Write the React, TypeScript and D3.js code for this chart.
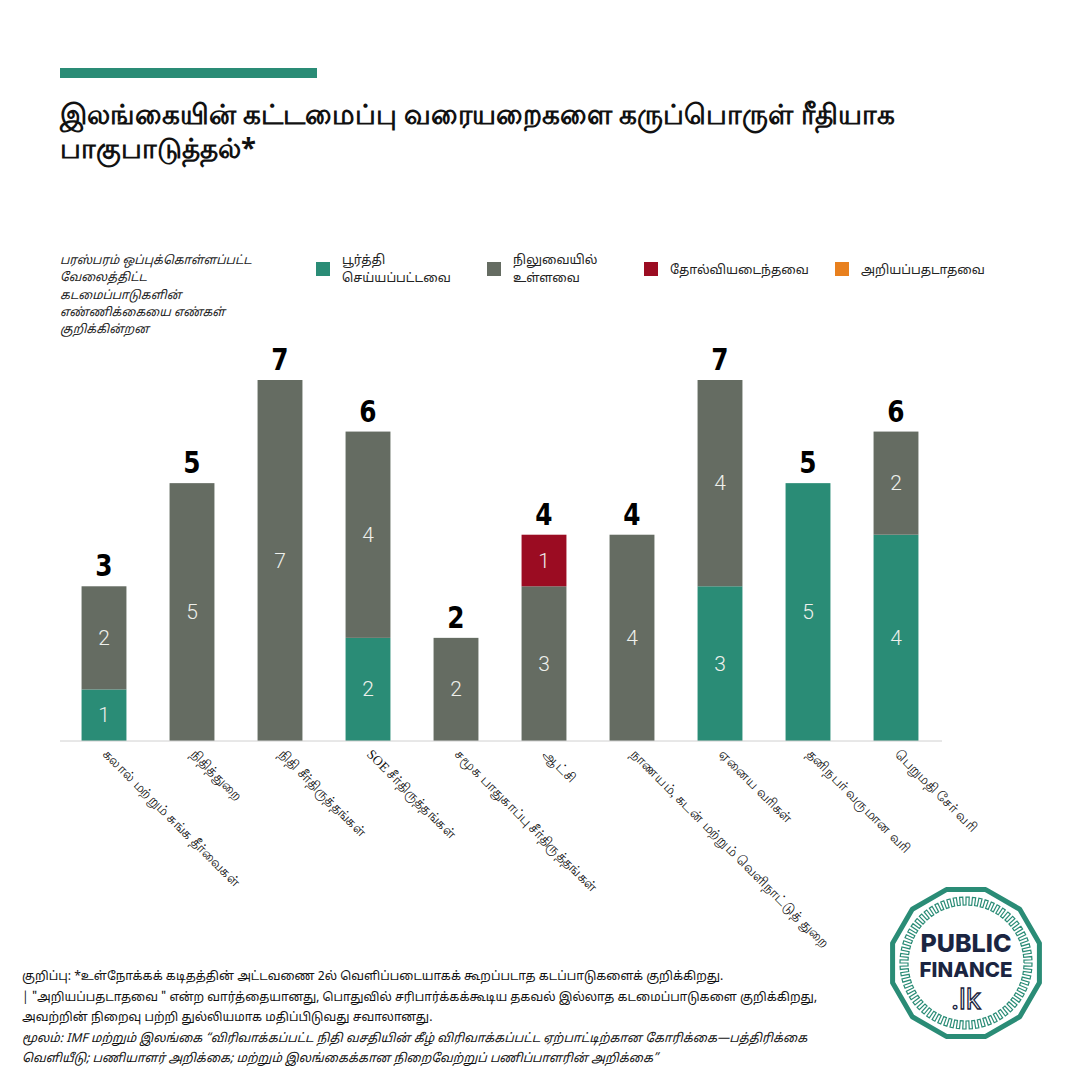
import React from 'react';
import * as d3 from 'd3';

// categories (x axis)
const categories = [
  'கலால் மற்றும் சுங்க தீர்வைகள்',
  'நிதித்துறை',
  'நிதி சீர்திருத்தங்கள்',
  'SOE சீர்திருத்தங்கள்',
  'சமூக பாதுகாப்பு சீர்திருத்தங்கள்',
  'ஆட்சி',
  'நாணயம், கடன் மற்றும் வெளிநாட்டுத் துறை',
  'ஏனைய வரிகள்',
  'தனிநபர் வருமான வரி',
  'பெறுமதி சேர் வரி',
];

// series values
const completed = [1, 0, 0, 2, 0, 0, 0, 3, 5, 4];
const pending = [2, 5, 7, 4, 2, 3, 4, 4, 0, 2];
const failed = [0, 0, 0, 0, 0, 1, 0, 0, 0, 0];
const unknown = [0, 0, 0, 0, 0, 0, 0, 0, 0, 0];

const seriesKeys = ['completed', 'pending', 'failed', 'unknown'];
const seriesNames = ['பூர்த்தி\nசெய்யப்பட்டவை', 'நிலுவையில்\nஉள்ளவை', 'தோல்வியடைந்தவை', 'அறியப்பதடாதவை'];
const seriesColors = ['#2a8c76', '#656c62', '#9b0c22', '#e8801e'];

const title = ['இலங்கையின் கட்டமைப்பு வரையறைகளை கருப்பொருள் ரீதியாக', 'பாகுபாடுத்தல்*'];
const noteLines = ['பரஸ்பரம் ஒப்புக்கொள்ளப்பட்ட', 'வேலைத்திட்ட', 'கடமைப்பாடுகளின்', 'எண்ணிக்கையை எண்கள்', 'குறிக்கின்றன'];
const footLines = [
  'குறிப்பு: *உள்நோக்கக் கடிதத்தின் அட்டவணை 2ல் வெளிப்படையாகக் கூறப்படாத கடப்பாடுகளைக் குறிக்கிறது.',
  '| "அறியப்பதடாதவை " என்ற வார்த்தையானது, பொதுவில் சரிபார்க்கக்கூடிய தகவல் இல்லாத கடமைப்பாடுகளை  குறிக்கிறது,',
  'அவற்றின் நிறைவு பற்றி துல்லியமாக மதிப்பிடுவது சவாலானது.',
  'மூலம்: IMF மற்றும் இலங்கை “விரிவாக்கப்பட்ட நிதி வசதியின் கீழ் விரிவாக்கப்பட்ட ஏற்பாட்டிற்கான கோரிக்கை—பத்திரிக்கை',
  'வெளியீடு; பணியாளர் அறிக்கை; மற்றும் இலங்கைக்கான நிறைவேற்றுப் பணிப்பாளரின் அறிக்கை”',
];

const W = 1080;
const H = 1080;
const baseY = 741;
const tamilSans = "'Noto Sans Tamil', 'Lohit Tamil', 'Noto Sans', sans-serif";

const rows = categories.map((c, i) => ({
  category: c,
  completed: completed[i],
  pending: pending[i],
  failed: failed[i],
  unknown: unknown[i],
}));

const Logo: React.FC<{ cx: number; cy: number }> = ({ cx, cy }) => {
  const n = 12;
  const r = 76;
  const pts = d3.range(n).map((i) => {
    const a = (i / n) * Math.PI * 2 - Math.PI / 2 + Math.PI / n;
    return [cx + r * Math.cos(a), cy + r * Math.sin(a)];
  });
  // meander ring
  const segs = 64;
  const r1 = 58;
  const r2 = 66;
  let p = '';
  for (let i = 0; i < segs; i++) {
    const a0 = (i / segs) * Math.PI * 2;
    const a1 = ((i + 0.5) / segs) * Math.PI * 2;
    const a2 = ((i + 1) / segs) * Math.PI * 2;
    const pt = (rr: number, a: number) => `${cx + rr * Math.cos(a)},${cy + rr * Math.sin(a)}`;
    p += `${i === 0 ? 'M' : 'L'}${pt(r1, a0)} L${pt(r2, a0)} L${pt(r2, a1)} L${pt(r1, a1)} L${pt(r1, a2)} `;
  }
  return (
    <g>
      <polygon points={pts.map((d) => d.join(',')).join(' ')} fill="#fff" stroke="#2a8c76" strokeWidth={5} strokeLinejoin="round" />
      <path d={p} fill="none" stroke="#2a8c76" strokeWidth={1.2} />
      <text x={cx} y={cy - 11} textAnchor="middle" fontFamily="Inter, Roboto, sans-serif" fontWeight={800} fontSize={25} fill="#1b2541">PUBLIC</text>
      <text x={cx} y={cy + 14} textAnchor="middle" fontFamily="Inter, Roboto, sans-serif" fontWeight={800} fontSize={20.5} fill="#1b2541">FINANCE</text>
      <text x={cx} y={cy + 46} textAnchor="middle" fontFamily="Inter, Roboto, sans-serif" fontWeight={400} fontSize={28} fill="#fff" stroke="#1b2541" strokeWidth={1.3}>.lk</text>
    </g>
  );
};

const App: React.FC = () => {
  const x = d3.scaleBand<string>()
    .domain(categories)
    .range([60, 940])
    .paddingInner(0.49)
    .paddingOuter(0.245);

  const y = d3.scaleLinear().domain([0, 7]).range([baseY, 380]);

  const stack = d3.stack<any>().keys(seriesKeys);
  const layers = stack(rows as any);

  return (
    <svg width={W} height={H} style={{ display: 'block', position: 'absolute', left: 0, top: 0 }}>
      <rect width={W} height={H} fill="#fff" />
      <rect x={60} y={68} width={257} height={10} fill="#2a8c76" />
      {title.map((t, i) => (
        <text key={i} x={60} y={124 + i * 34} fontFamily="'Noto Sans', sans-serif" fontWeight={700} fontSize={27.5} fill="#111">{t}</text>
      ))}

      {/* note */}
      {noteLines.map((t, i) => (
        <text key={i} x={60} y={264 + i * 17.3} fontFamily={tamilSans} fontStyle="italic" fontSize={12} fill="#222">{t}</text>
      ))}

      {/* legend */}
      {seriesNames.map((name, i) => {
        const lx = [316, 487, 644, 835][i];
        const lines = name.split('\n');
        return (
          <g key={i}>
            <rect x={lx} y={262} width={14} height={14} fill={seriesColors[i]} />
            {lines.map((l, j) => (
              <text key={j} x={lx + 26} y={lines.length === 1 ? 274 : 264 + j * 18} fontFamily={tamilSans} fontSize={12.5} fill="#222">{l}</text>
            ))}
          </g>
        );
      })}

      {/* bars */}
      {layers.map((layer, li) => (
        <g key={li} fill={seriesColors[li]}>
          {layer.map((d, i) => {
            const v = d[1] - d[0];
            if (v <= 0) return null;
            const bx = x(categories[i]) || 0;
            return (
              <g key={i}>
                <rect x={bx} y={y(d[1])} width={x.bandwidth()} height={y(d[0]) - y(d[1])} />
                <text x={bx + x.bandwidth() / 2} y={(y(d[0]) + y(d[1])) / 2 + 7} textAnchor="middle" fontFamily="Roboto, sans-serif" fontWeight={300} fontSize={21} fill="#eef0ec">{v}</text>
              </g>
            );
          })}
        </g>
      ))}

      {/* totals */}
      {rows.map((r, i) => {
        const total = r.completed + r.pending + r.failed + r.unknown;
        const tx = (x(r.category) || 0) + x.bandwidth() / 2;
        return (
          <text key={i} transform={`translate(${tx},${y(total) - 10}) scale(0.8,1)`} textAnchor="middle" fontFamily="'DejaVu Sans', sans-serif" fontWeight={700} fontSize={31} fill="#000">{total}</text>
        );
      })}

      {/* axis */}
      <line x1={60} x2={942} y1={baseY} y2={baseY} stroke="#d0d0d0" strokeWidth={1} />
      {categories.map((c, i) => {
        const cx = (x(c) || 0) + x.bandwidth() / 2;
        return (
          <text key={i} transform={`translate(${cx - 2},${baseY + 14}) rotate(45)`} fontFamily="serif" fontSize={13.5} fill="#111">{c}</text>
        );
      })}

      {/* footnotes */}
      {footLines.map((t, i) => (
        <text key={i} x={22} y={980 + i * 20.5} fontFamily={tamilSans} fontStyle={i >= 3 ? 'italic' : 'normal'} fontSize={12.2} fill="#111">{t}</text>
      ))}

      <Logo cx={966} cy={963} />
    </svg>
  );
};

export default App;
